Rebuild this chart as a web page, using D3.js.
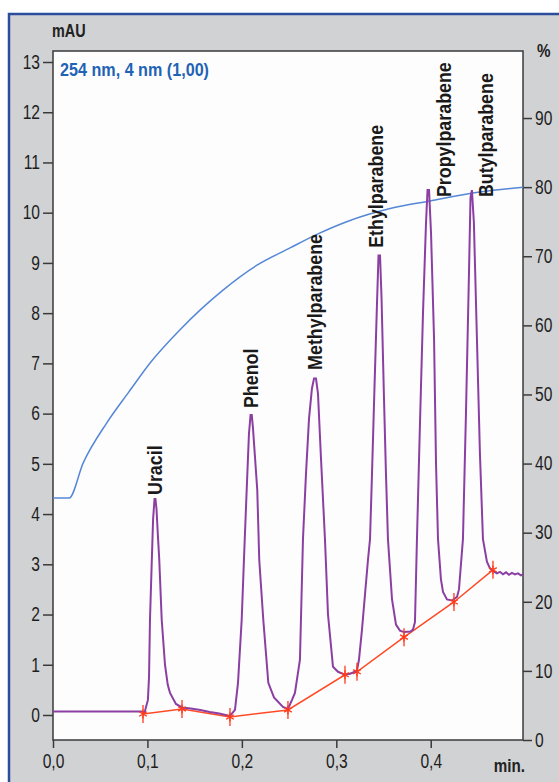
<!DOCTYPE html>
<meta charset="utf-8">
<html lang="de">
<head>
	<meta charset="utf-8">
	<title>Chromatogram 254 nm</title>
	<script type="text/javascript" src="https://cdn.jsdelivr.net/npm/d3@7/dist/d3.min.js"></script>
	<style type="text/css">
		body { margin: 0; background: #fff; }
		text { font-family: "Liberation Sans", Arial, sans-serif; }
	</style>
</head>
<body>
	<script type="text/javascript">

// DATA
		// signal trace: time (min) and absorbance (mAU)
		var signalTime = [0, 0.05, 0.094, 0.097,
			0.1005, 0.1017, 0.1027, 0.1045, 0.106, 0.1075, 0.1085, 0.1096, 0.111, 0.1125, 0.1151, 0.1186, 0.1215, 0.1239, 0.1302, 0.1366,
			0.146, 0.156, 0.166, 0.176, 0.1874,
			0.1927, 0.1959, 0.1998, 0.2022, 0.2051, 0.2075, 0.2092, 0.2105, 0.2118, 0.2163, 0.2184, 0.2227, 0.228, 0.234, 0.2435, 0.2488,
			0.2531, 0.2562, 0.2615, 0.2631, 0.2647, 0.2679, 0.2711, 0.2742, 0.2764, 0.2785, 0.2806, 0.2838, 0.288, 0.2912, 0.2965, 0.3018, 0.3092, 0.3145, 0.3218,
			0.324, 0.3272, 0.3304, 0.3336, 0.3357, 0.3378, 0.3404, 0.3431, 0.3447, 0.3463, 0.3479, 0.3505, 0.3526, 0.3547, 0.359, 0.3632, 0.3674, 0.3717, 0.3786,
			0.3812, 0.3833, 0.3854, 0.3886, 0.3918, 0.395, 0.3966, 0.3982, 0.4003, 0.4035, 0.4056, 0.4077, 0.4108, 0.413, 0.4172, 0.4225, 0.4278,
			0.4299, 0.4341, 0.4373, 0.4405, 0.4421, 0.4436, 0.4457, 0.4489, 0.4521, 0.4553, 0.4595, 0.4627, 0.4659,
			0.4701, 0.4733, 0.4765, 0.4797, 0.4828, 0.486, 0.4892, 0.4924, 0.4955, 0.4977];
		var signalMAU = [0.07, 0.07, 0.07, 0.05,
			0.3, 0.76, 1.9, 3.0, 3.9, 4.3, 4.3, 4.1, 3.6, 3.1, 1.9, 1.0, 0.6, 0.44, 0.22, 0.15,
			0.13, 0.1, 0.06, 0.03, -0.02,
			0.1, 0.64, 1.89, 3.09, 4.48, 5.6, 5.97, 5.97, 5.7, 4.48, 3.09, 1.89, 0.64, 0.35, 0.16, 0.12,
			0.3, 0.44, 1.1, 2.3, 3.5, 4.8, 5.9, 6.5, 6.7, 6.7, 6.4, 5.1, 3.5, 2.0, 0.96, 0.86, 0.8, 0.82, 0.88,
			1.1, 1.7, 2.4, 3.1, 3.5, 4.8, 6.5, 8.2, 9.15, 9.15, 8.3, 6.3, 4.8, 3.5, 2.3, 1.8, 1.68, 1.65, 1.66,
			1.7, 1.85, 3.5, 5.8, 8.0, 9.8, 10.45, 10.45, 9.6, 7.5, 5.0, 3.5, 2.7, 2.45, 2.3, 2.28, 2.35,
			2.5, 3.5, 6.0, 8.8, 10.3, 10.45, 9.8, 7.5, 5.2, 3.5, 3.05, 2.92, 2.87,
			2.82, 2.85, 2.8, 2.84, 2.79, 2.83, 2.8, 2.82, 2.78, 2.8];

		// integration baseline markers
		var baseTime = [0.0953, 0.1366, 0.1874, 0.2488, 0.3092, 0.3219, 0.3717, 0.4246, 0.4659];
		var baseMAU = [0.02, 0.12, -0.04, 0.1, 0.8, 0.86, 1.55, 2.25, 2.89];

		// gradient (% B)
		var gradTime = [0, 0.017, 0.032, 0.057, 0.08, 0.103, 0.134, 0.18, 0.216, 0.251, 0.28, 0.311, 0.357, 0.399, 0.452, 0.498];
		var gradPct = [35, 35, 40.1, 45.9, 50.3, 54.6, 59.3, 65.1, 68.7, 71.2, 73.2, 75.0, 76.9, 78.0, 79.3, 80.0];

		// peak names and where their labels sit (time, mAU at the label foot)
		var peakNames = ["Uracil", "Phenol", "Methylparabene", "Ethylparabene", "Propylparabene", "Butylparabene"];
		var labelTime = [0.1154, 0.2171, 0.2848, 0.3494, 0.4214, 0.4659];
		var labelMAU = [4.38, 6.11, 6.87, 9.30, 10.31, 10.31];

		// ticks
		var leftTicks = [0, 1, 2, 3, 4, 5, 6, 7, 8, 9, 10, 11, 12, 13];
		var rightTicks = [0, 10, 20, 30, 40, 50, 60, 70, 80, 90];
		var timeTicks = [0, 0.1, 0.2, 0.3, 0.4];
		var timeLabels = ["0,0", "0,1", "0,2", "0,3", "0,4"];

// SIZES
		var w = 559;
		var h = 782;
		var plotL = 53, plotR = 523, plotT = 51, plotB = 740;

		var svg = d3.select("body")
			.append("svg")
			.attr("width", w)
			.attr("height", h);

// BACKGROUND + FRAME
		svg.append("rect")
			.attr("x", 9).attr("y", 14)
			.attr("width", w + 20).attr("height", h + 20)
			.attr("fill", "#d1d2d4")
			.attr("stroke", "#2c4c9c")
			.attr("stroke-width", 2.5);

		svg.append("rect")
			.attr("x", plotL).attr("y", plotT)
			.attr("width", plotR - plotL).attr("height", plotB - plotT)
			.attr("fill", "#fdfdfd")
			.attr("stroke", "#3a3a3a")
			.attr("stroke-width", 1.5);

// SCALES
		var x = d3.scaleLinear().domain([0, 0.4977]).range([plotL, plotR]);
		var y = d3.scaleLinear().domain([-0.498, 13.219]).range([plotB, plotT]);
		var y2 = d3.scaleLinear().domain([0, 99.7]).range([plotB, plotT]);

// AXES
		var gl = svg.append("g")
			.attr("transform", "translate(" + plotL + ",0)")
			.call(d3.axisLeft(y).tickValues(leftTicks).tickSize(10).tickPadding(3).tickFormat(d3.format("d")));

		var gr = svg.append("g")
			.attr("transform", "translate(" + plotR + ",0)")
			.call(d3.axisRight(y2).tickValues(rightTicks).tickSize(9).tickPadding(3).tickFormat(d3.format("d")));

		var gb = svg.append("g")
			.attr("transform", "translate(0," + plotB + ")")
			.call(d3.axisBottom(x).tickValues(timeTicks).tickSize(8).tickPadding(6)
				.tickFormat(function(d, i) { return timeLabels[i]; }));

		[gl, gr, gb].forEach(function(g) {
			g.select(".domain").remove();
			g.selectAll("line").attr("stroke", "#3a3a3a").attr("stroke-width", 1.5);
			g.selectAll("text")
				.attr("fill", "#1e1e1e")
				.attr("data-squeeze", 0.8)
				.style("font-size", "19.5px")
				.style("font-family", "'Liberation Sans', Arial, sans-serif");
		});

// UNIT LABELS
		svg.append("text").text("mAU")
			.attr("x", 52).attr("y", 37)
			.attr("font-weight", "bold").attr("font-size", "18px").attr("fill", "#222");
		svg.append("text").text("%")
			.attr("x", 537).attr("y", 57)
			.attr("font-weight", "bold").attr("font-size", "19px").attr("fill", "#222");
		svg.append("text").text("min.")
			.attr("x", 525).attr("y", 772)
			.attr("text-anchor", "end")
			.attr("font-weight", "bold").attr("font-size", "19px").attr("fill", "#222");

		svg.append("text").text("254 nm, 4 nm (1,00)")
			.attr("x", 60).attr("y", 76)
			.attr("data-squeeze", 0.85)
			.attr("font-weight", "bold").attr("font-size", "19px").attr("fill", "#1f63b5");

// GRADIENT LINE
		var gradLine = d3.line()
			.x(function(d, i) { return x(gradTime[i]); })
			.y(function(d) { return y2(d); })
			.curve(d3.curveMonotoneX);

		svg.append("path")
			.datum(gradPct)
			.attr("d", gradLine)
			.attr("fill", "none")
			.attr("stroke", "#5587d6")
			.attr("stroke-width", 1.5);

// BASELINE
		var baseLine = d3.line()
			.x(function(d, i) { return x(baseTime[i]); })
			.y(function(d) { return y(d); });

		svg.append("path")
			.datum(baseMAU)
			.attr("d", baseLine)
			.attr("fill", "none")
			.attr("stroke", "#ff4a26")
			.attr("stroke-width", 1.5);

// SIGNAL
		var sigLine = d3.line()
			.x(function(d, i) { return x(signalTime[i]); })
			.y(function(d) { return y(d); });

		svg.append("path")
			.datum(signalMAU)
			.attr("d", sigLine)
			.attr("fill", "none")
			.attr("stroke", "#8c3fa3")
			.attr("stroke-width", 2);

// MARKERS
		var star = d3.symbol().type(d3.symbolAsterisk).size(55);
		var marks = svg.selectAll("g.mark")
			.data(baseMAU)
			.enter()
			.append("g")
			.attr("class", "mark")
			.attr("transform", function(d, i) { return "translate(" + x(baseTime[i]) + "," + y(d) + ")"; });
		marks.append("path")
			.attr("d", star)
			.attr("fill", "none")
			.attr("stroke", "#ff3a1a")
			.attr("stroke-width", 1.3);
		marks.append("line")
			.attr("x1", 0).attr("x2", 0)
			.attr("y1", -9).attr("y2", 9)
			.attr("stroke", "#ff3a1a")
			.attr("stroke-width", 1.3);

// PEAK LABELS
		svg.selectAll("text.peak")
			.data(peakNames)
			.enter()
			.append("text")
			.attr("class", "peak")
			.text(function(d) { return d; })
			.attr("transform", function(d, i) {
				return "translate(" + x(labelTime[i]) + "," + y(labelMAU[i]) + ") rotate(-90)";
			})
			.attr("data-squeeze", 0.85)
			.attr("font-weight", "bold")
			.attr("font-size", "21px")
			.attr("fill", "#1a1a1a");

// NARROW LOOK: squeeze every text like a condensed face
		svg.selectAll("text").each(function() {
			var k = +(this.getAttribute("data-squeeze") || 0.8);
			var len = this.getComputedTextLength();
			d3.select(this)
				.attr("textLength", len * k)
				.attr("lengthAdjust", "spacingAndGlyphs");
		});

	</script>
</body>
</html>
